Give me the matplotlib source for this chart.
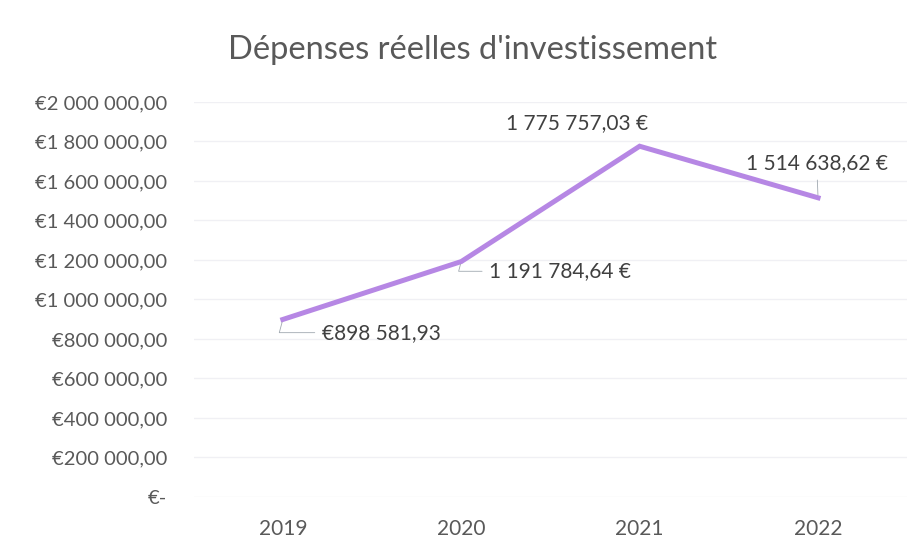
import matplotlib
matplotlib.use("Agg")
import matplotlib.pyplot as plt
from matplotlib.ticker import FuncFormatter

years = ["2019", "2020", "2021", "2022"]
depenses = [898581.93, 1191784.64, 1775757.03, 1514638.62]
point_labels = ["€898 581,93", "1 191 784,64 €", "1 775 757,03 €", "1 514 638,62 €"]

plt.rcParams["font.family"] = ["Lato", "DejaVu Sans"]
GREY = "#595959"


def euro(v, _pos):
    if v == 0:
        return "€-"
    s = f"{v:,.2f}".replace(",", " ").replace(".", ",")
    return "€" + s


fig = plt.figure(figsize=(9.22, 5.54), dpi=100)
ax = fig.add_axes([0.210, 0.103, 0.774, 0.713])

x = range(len(years))
ax.plot(x, depenses, color="#b687e4", lw=3.6, solid_joinstyle="miter", zorder=3)

ax.set_xlim(-0.5, len(years) - 0.5)
ax.set_ylim(0, 2000000)
ax.set_yticks(range(0, 2000001, 200000))
ax.yaxis.set_major_formatter(FuncFormatter(euro))
ax.set_xticks(list(x))
ax.set_xticklabels(years)
ax.tick_params(length=0, colors=GREY)
ax.tick_params(axis="y", labelsize=14.5, pad=19)
ax.tick_params(axis="x", labelsize=15, pad=16)
ax.grid(axis="y", color="#f0f0f4", lw=1.0)
for s in ax.spines.values():
    s.set_visible(False)

# data labels with small elbow leader lines
offsets = [(28, -9.5), (20, -7), (-45, 17), (-1, 25)]
aligns = ["left", "left", "center", "center"]
for i, (lab, (dx, dy), ha) in enumerate(zip(point_labels, offsets, aligns)):
    arrow = None
    if i != 2:
        arrow = dict(arrowstyle="-", color="#a0a8b0", lw=0.6, shrinkA=3, shrinkB=2,
                     connectionstyle="angle,angleA=0,angleB=75,rad=0" if i < 2
                     else "arc3")
    ax.annotate(lab, (i, depenses[i]), xytext=(dx, dy), textcoords="offset points",
                ha=ha, va="center", fontsize=15, color="#404040", arrowprops=arrow)

fig.text(0.512, 0.909, "Dépenses réelles d'investissement", ha="center", va="center",
         fontsize=23.5, color=GREY)

fig.savefig("out.png", dpi=100, facecolor="white")
